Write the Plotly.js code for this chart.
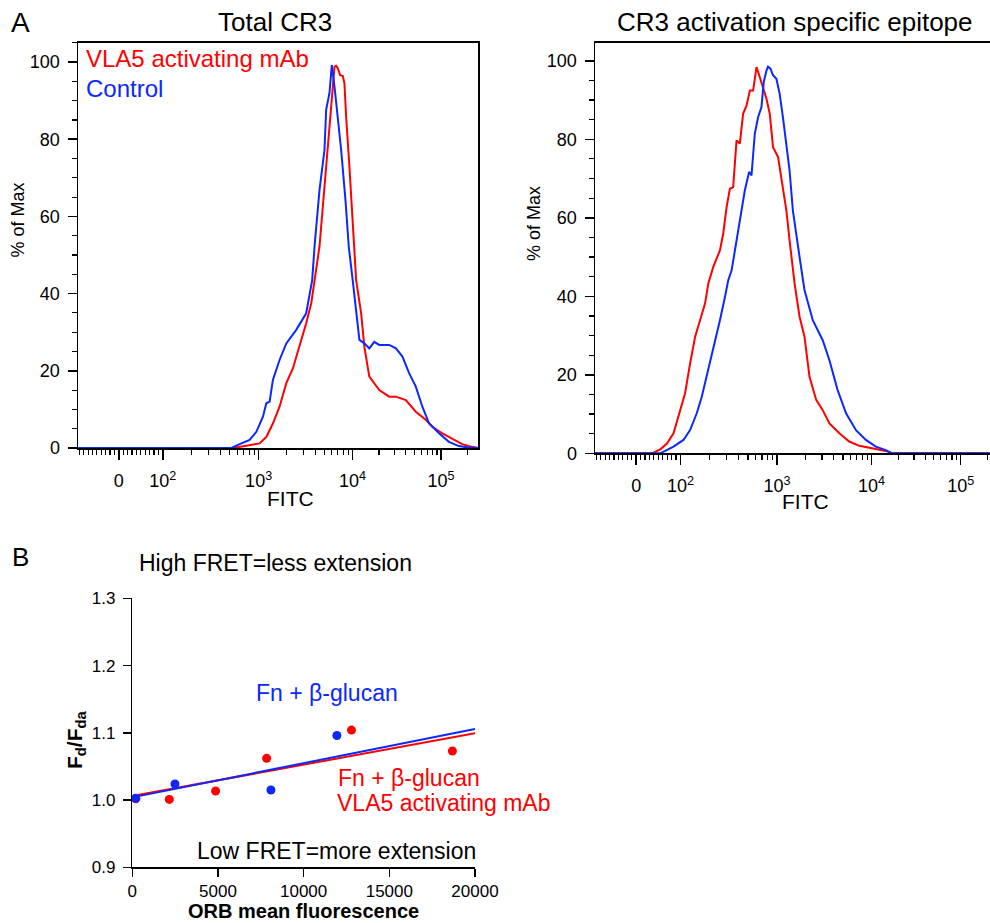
<!DOCTYPE html>
<html><head><meta charset="utf-8">
<script src="https://cdn.plot.ly/plotly-3.0.1.min.js"></script>
<style>html,body{margin:0;padding:0;background:#fff}#chart{width:990px;height:923px}</style>
</head><body><div id="chart"></div>
<script>
// ---------------- DATA ----------------
// Panel A histograms: x = log10(FITC intensity), y = % of Max
const fitcMin = -93;          // lowest (compensated) FITC value of the histogram range
const fitcMax = 262144;       // top of the FITC range

const totalVlaLog = [2.732,2.872,3.011,3.083,3.153,3.223,3.295,3.365,3.436,3.507,3.561,3.596,3.649,3.729,3.809,3.827,3.844,3.869,3.897,3.915,3.933,3.968,4.003,4.022,4.042,4.098,4.135,4.191,4.303,4.416,4.491,4.603,4.716,4.828,4.902,5.015,5.127,5.240,5.352,5.418];
const totalVlaPct = [0,0.6,1.2,2.9,6.4,10.7,16.8,20.6,26.2,32.3,37.5,43.5,52.2,75.5,98.8,99.0,98.4,96.6,96.4,94.5,85.8,72.9,59.9,52.2,43.5,35.0,26.2,18.5,15.0,13.3,13.3,12.4,9.4,7.3,5.5,3.8,2.3,1.0,0.3,0];

const totalCtlLog = [2.716,2.802,2.906,2.976,3.046,3.082,3.117,3.152,3.223,3.295,3.401,3.507,3.543,3.571,3.596,3.649,3.702,3.720,3.755,3.780,3.809,3.844,3.880,3.926,3.961,4.003,4.042,4.079,4.135,4.191,4.247,4.303,4.416,4.491,4.565,4.640,4.716,4.790,4.865,4.978,5.090,5.202,5.315,5.418];
const totalCtlPct = [0,1.0,2.1,4.2,8.1,11.6,12.0,17.6,22.8,27.1,30.6,34.9,39.2,43.5,52.2,66.8,77.2,87.6,91.9,99.2,93.6,85.8,77.2,64.2,52.2,43.5,34.9,28.0,27.1,25.8,27.5,26.7,26.7,25.8,23.7,19.4,15.9,10.7,6.4,3.8,1.6,0.5,0.1,0];

const epiVlaLog = [1.555,1.736,1.842,1.926,1.997,2.048,2.100,2.152,2.203,2.255,2.289,2.340,2.409,2.443,2.478,2.512,2.546,2.581,2.615,2.649,2.685,2.719,2.753,2.788,2.822,2.856,2.891,2.925,2.959,3.011,3.046,3.099,3.133,3.186,3.239,3.291,3.344,3.415,3.484,3.555,3.660,3.765,3.871,4.011,4.161,4.230,5.418];
const epiVlaPct = [0,1.0,2.5,5.1,11.0,15.3,22.9,29.7,33.9,38.2,43.3,47.5,51.7,56.0,62.7,67.4,67.8,79.7,78.9,86.5,88.6,92.4,92.4,98.4,95.8,93.3,90.3,86.5,78.0,75.5,70.4,61.9,54.3,43.3,34.8,29.7,19.5,13.6,11.0,7.6,5.1,3.0,1.9,1.2,0.6,0,0];

const epiCtlLog = [1.736,1.926,2.031,2.100,2.169,2.221,2.289,2.340,2.409,2.461,2.495,2.530,2.564,2.581,2.633,2.667,2.711,2.736,2.770,2.804,2.839,2.863,2.891,2.907,2.932,2.959,2.994,3.028,3.063,3.099,3.133,3.168,3.211,3.239,3.291,3.379,3.484,3.555,3.642,3.731,3.836,3.941,4.049,4.161,4.230,5.418];
const epiCtlPct = [0,1.7,3.4,5.9,10.2,14.4,21.2,26.3,33.9,39.8,44.1,46.6,51.7,54.3,61.9,67.0,71.7,70.8,81.4,85.6,88.2,94.6,97.5,98.5,98.0,96.3,95.4,91.6,85.6,78.0,72.1,61.9,54.3,50.0,41.6,33.9,28.8,23.7,16.1,10.2,5.9,3.4,1.7,0.8,0,0];

const fitcTickVals = [0,100,1000,10000,100000];
const fitcTickText = ['0','10<sup>2</sup>','10<sup>3</sup>','10<sup>4</sup>','10<sup>5</sup>'];
const fitcMinorVals = [-90,-80,-70,-60,-50,-40,-30,-20,-10,10,20,30,40,50,60,70,80,90,
  200,300,400,500,600,700,800,900,2000,3000,4000,5000,6000,7000,8000,9000,
  20000,30000,40000,50000,60000,70000,80000,90000,200000];
const pctTickVals = [0,20,40,60,80,100];

// Panel B: ORB mean fluorescence vs Fd/Fda
const orbBlue  = [200, 2490, 8090, 11940];
const fretBlue = [1.0025, 1.0238, 1.0149, 1.096];
const orbRed   = [200, 2160, 4860, 7840, 12790, 18680];
const fretRed  = [1.002, 1.001, 1.0134, 1.062, 1.104, 1.073];
const fitOrb     = [0, 20000];
const fitBlueVal = [1.004, 1.1057];
const fitRedVal  = [1.006, 1.0993];

// ---------------- DISPLAY SCALE (logicle-like) ----------------
const DEC_LOG = [2,3,4,5];
const DEC_POS = [0.471,1.498,2.503,3.452];
function disp(v){
  if (v < 100) return DEC_POS[0]*v/100;
  const l = Math.log10(v);
  for (let i=0;i<3;i++) if (l <= DEC_LOG[i+1]) return DEC_POS[i] + (l-DEC_LOG[i])*(DEC_POS[i+1]-DEC_POS[i]);
  return DEC_POS[3] + (l-5)*(DEC_POS[3]-DEC_POS[2]);
}
const dispLog = l => disp(Math.pow(10,l));

const W=990,H=923;
const PX = x => x/W, PY = y => 1 - y/H;
const RED='rgb(255,0,0)', BLUE='rgb(10,40,255)';
const FONT='Arial, "Liberation Sans", sans-serif';

function hist(logs, pct, color, xa, ya){
  return {type:'scatter', mode:'lines', xaxis:xa, yaxis:ya,
    x:[disp(fitcMin)].concat(logs.map(dispLog)), y:[0].concat(pct),
    line:{color:color, width:2}, hoverinfo:'skip', cliponaxis:true};
}

const traces = [
  hist(totalVlaLog,totalVlaPct,RED,'x','y'),
  hist(totalCtlLog,totalCtlPct,BLUE,'x','y'),
  hist(epiVlaLog,epiVlaPct,RED,'x2','y2'),
  hist(epiCtlLog,epiCtlPct,BLUE,'x2','y2'),
  {type:'scatter',mode:'lines',x:fitOrb,y:fitRedVal,xaxis:'x3',yaxis:'y3',line:{color:RED,width:2},cliponaxis:false},
  {type:'scatter',mode:'lines',x:fitOrb,y:fitBlueVal,xaxis:'x3',yaxis:'y3',line:{color:BLUE,width:2},cliponaxis:false},
  {type:'scatter',mode:'markers',x:orbRed,y:fretRed,xaxis:'x3',yaxis:'y3',marker:{color:RED,size:9},cliponaxis:false},
  {type:'scatter',mode:'markers',x:orbBlue,y:fretBlue,xaxis:'x3',yaxis:'y3',marker:{color:BLUE,size:9},cliponaxis:false}
];

function fitcAxis(domain, range, mirror){
  return {domain:domain, range:range, showline:true, linecolor:'#000', linewidth:1.5, mirror:mirror,
    showgrid:false, zeroline:false, ticks:'outside', ticklen:10, tickwidth:1.5, tickcolor:'#000',
    tickmode:'array', tickvals:fitcTickVals.map(disp), ticktext:fitcTickText,
    tickfont:{family:FONT,size:18,color:'#000'}, ticklabelstandoff:6,
    minor:{tickmode:'array', tickvals:fitcMinorVals.map(disp), ticks:'outside', ticklen:5, tickwidth:1.2, tickcolor:'#000', showgrid:false}};
}
function pctAxis(domain, range, mirror){
  return {domain:domain, range:range, showline:true, linecolor:'#000', linewidth:1.5, mirror:mirror,
    showgrid:false, zeroline:false, ticks:'outside', ticklen:9, tickwidth:1.5, tickcolor:'#000',
    tickmode:'array', tickvals:pctTickVals, tickfont:{family:FONT,size:18,color:'#000'}, ticklabelstandoff:4,
    minor:{dtick:5, ticks:'outside', ticklen:5, tickwidth:1.2, tickcolor:'#000', showgrid:false}};
}

function ann(text, x, y, size, color, xanchor, extra){
  return Object.assign({text:text, xref:'paper', yref:'paper', x:PX(x), y:PY(y), xanchor:xanchor||'center', yanchor:'middle',
    showarrow:false, borderpad:0, font:{family:FONT, size:size, color:color||'#000'}}, extra||{});
}

const layout = {
  width:W, height:H, margin:{l:0,r:0,t:0,b:0}, paper_bgcolor:'#fff', plot_bgcolor:'rgba(0,0,0,0)',
  showlegend:false, font:{family:FONT,color:'#000'},
  xaxis: fitcAxis([PX(78),PX(478)], [-0.438,3.849], true),
  yaxis: Object.assign(pctAxis([PY(448),PY(42.7)], [0,105], true), {anchor:'x'}),
  xaxis2: Object.assign(fitcAxis([PX(595),1], [-0.438,3.764], true), {anchor:'y2'}),
  yaxis2: Object.assign(pctAxis([PY(453.3),PY(42.7)], [0,104.6], false), {anchor:'x2'}),
  xaxis3: {domain:[PX(132.3),PX(475)], range:[0,20000], anchor:'y3', showline:true, linecolor:'#000', linewidth:1.5,
    showgrid:false, zeroline:false, ticks:'outside', ticklen:8, tickwidth:1.5, tickcolor:'#000',
    tickmode:'array', tickvals:[0,5000,10000,15000,20000], tickformat:'d', tickfont:{family:FONT,size:17,color:'#000'}, ticklabelstandoff:0},
  yaxis3: {domain:[PY(867.3),PY(598.3)], range:[0.9,1.3], anchor:'x3', showline:true, linecolor:'#000', linewidth:1.5,
    showgrid:false, zeroline:false, ticks:'outside', ticklen:8, tickwidth:1.5, tickcolor:'#000',
    tickmode:'array', tickvals:[0.9,1.0,1.1,1.2,1.3], tickformat:'.1f', tickfont:{family:FONT,size:17,color:'#000'}, ticklabelstandoff:4},
  annotations: [
    ann('A', 20, 22, 28),
    ann('Total CR3', 275, 22, 26),
    ann('CR3 activation specific epitope', 795, 22, 26),
    ann('VLA5 activating mAb', 85, 59, 24, RED, 'left'),
    ann('Control', 85, 89, 24, BLUE, 'left'),
    ann('% of Max', 17.5, 220, 18, '#000', 'center', {textangle:-90}),
    ann('% of Max', 534, 224, 18, '#000', 'center', {textangle:-90}),
    ann('FITC', 290, 498, 21),
    ann('FITC', 805, 501, 21),
    ann('B', 20, 557, 26),
    ann('High FRET=less extension', 275, 563, 23),
    ann('Fn + β-glucan', 327, 693, 23, BLUE),
    ann('Fn + β-glucan', 337, 778, 23, RED, 'left'),
    ann('VLA5 activating mAb', 336, 803, 23, RED, 'left'),
    ann('Low FRET=more extension', 196, 851, 23, '#000', 'left'),
    ann('<b>ORB mean fluorescence</b>', 303, 911, 20),
    ann('<b>F<sub>d</sub>/F<sub>da</sub></b>', 76, 740, 21, '#000', 'center', {textangle:-90})
  ]
};

Plotly.newPlot('chart', traces, layout, {staticPlot:true, displayModeBar:false});
</script></body></html>
